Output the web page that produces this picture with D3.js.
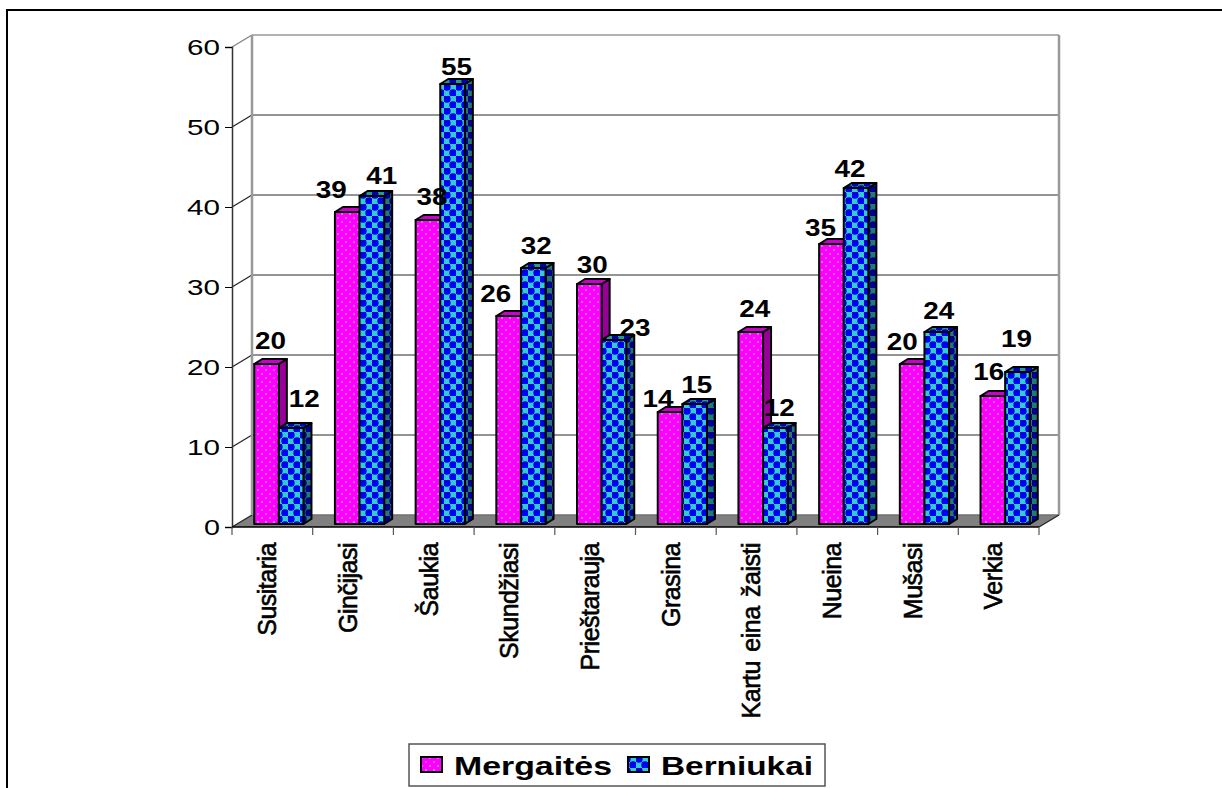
<!DOCTYPE html>
<html>
<head>
<meta charset="utf-8">
<script src="https://cdn.jsdelivr.net/npm/d3@7"></script>
<style>
html, body { margin: 0; padding: 0; background: #fff; }
svg { display: block; font-family: "Liberation Sans", Arial, sans-serif; }
</style>
</head>
<body>
<svg id="chart" width="1222" height="788"></svg>
<script>
const categories = ["Susitaria", "Ginčijasi", "Šaukia", "Skundžiasi", "Prieštarauja", "Grasina", "Kartu eina žaisti", "Nueina", "Mušasi", "Verkia"];
const girls = [20, 39, 38, 26, 30, 14, 24, 35, 20, 16];
const boys = [12, 41, 55, 32, 23, 15, 12, 42, 24, 19];
const yTicks = [0, 10, 20, 30, 40, 50, 60];
const seriesNames = ["Mergaitės", "Berniukai"];

// the original moves its value labels around to dodge the bars,
// so these are offsets from the bar centre and the gap above the bar
const girlsLabelDx = [4, -16, 4, -13, 3, -12, 4, -11, -10, -4];
const girlsLabelGap = [15, 14, 15, 14, 11, 5, 15, 8, 14, 16];
const boysLabelDx = [13, 10, 4, 3, 21, 2, 4, -6, 2, -1];
const boysLabelGap = [21, 12, 9, 14, 4, 11, 12, 11, 13, 25];

const left = 232, right = 1039, top3d = 47, bottom = 527;
const wallDx = 20, wallDy = -12; // shift of the back wall against the front

let svg = d3.select("#chart");

// Patterns for the bars
function dotPattern(defs, id, bg, dot) {
    let p = defs.append("pattern").attr("id", id).attr("patternUnits", "userSpaceOnUse")
        .attr("width", 8).attr("height", 8);
    p.append("rect").attr("width", 8).attr("height", 8).attr("fill", bg);
    p.append("rect").attr("x", 1).attr("y", 1).attr("width", 2).attr("height", 2).attr("fill", dot);
    p.append("rect").attr("x", 5).attr("y", 5).attr("width", 2).attr("height", 2).attr("fill", dot);
}
function checkPattern(defs, id, bg, square, dark) {
    let p = defs.append("pattern").attr("id", id).attr("patternUnits", "userSpaceOnUse")
        .attr("width", 12).attr("height", 12);
    p.append("rect").attr("width", 12).attr("height", 12).attr("fill", bg);
    p.append("rect").attr("x", 6).attr("y", 0).attr("width", 6).attr("height", 6).attr("fill", square);
    p.append("rect").attr("x", 0).attr("y", 6).attr("width", 6).attr("height", 6).attr("fill", square);
    p.append("circle").attr("cx", 3).attr("cy", 3).attr("r", 3.7).attr("fill", bg);
    p.append("circle").attr("cx", 9).attr("cy", 9).attr("r", 3.7).attr("fill", bg);
    p.append("path").attr("d", "M0.8 2.2Q3 0.4 5.2 2.2M6.8 8.2Q9 6.4 11.2 8.2")
        .attr("fill", "none").attr("stroke", dark).attr("stroke-width", 1);
}
let defs = svg.append("defs");
dotPattern(defs, "pinkFront", "#ff00ff", "#d070f0");
dotPattern(defs, "pinkSide", "#990099", "#990099");
dotPattern(defs, "pinkTop", "#cc00cc", "#cc00cc");
checkPattern(defs, "blueFront", "#0000ff", "#33cccc", "#0000aa");
checkPattern(defs, "blueSide", "#000099", "#247a70", "#000066");
checkPattern(defs, "blueTop", "#0000cc", "#2a9a90", "#000080");

// outer frame, cut off on the right and bottom of the picture
svg.append("path")
    .attr("d", "M7 788V10H1222")
    .attr("fill", "none").attr("stroke", "#000").attr("stroke-width", 2);

let x = d3.scaleBand().domain(categories).range([left, right]).paddingInner(0.39).paddingOuter(0.195);
let xTicks = d3.scaleLinear().domain([0, categories.length]).range([left, right]);
let inner = d3.scaleBand().domain(seriesNames).range([0, x.bandwidth()]);
let y = d3.scaleLinear().domain([0, 60]).range([bottom, top3d]);

// Floor
svg.append("path")
    .attr("d", `M${left} ${bottom}L${left + wallDx} ${bottom + wallDy}H${right + wallDx}L${right} ${bottom}Z`)
    .attr("fill", "#808080");

// Gridlines on the back wall and side wall
yTicks.forEach((t) => {
    svg.append("line").attr("x1", left + wallDx).attr("x2", right + wallDx)
        .attr("y1", y(t) + wallDy).attr("y2", y(t) + wallDy)
        .attr("stroke", t == 60 ? "#999" : "#707070").attr("stroke-width", 1.5);
    svg.append("line").attr("x1", left).attr("x2", left + wallDx)
        .attr("y1", y(t)).attr("y2", y(t) + wallDy)
        .attr("stroke", t == 60 ? "#808080" : "#222").attr("stroke-width", 1.2);
});
svg.append("path")
    .attr("d", `M${left + wallDx} ${y(0) + wallDy}V${y(60) + wallDy}`)
    .attr("stroke", "#999").attr("stroke-width", 2.5);
svg.append("path")
    .attr("d", `M${right + wallDx} ${y(0) + wallDy}V${y(60) + wallDy}`)
    .attr("stroke", "#999").attr("stroke-width", 2.5);
svg.append("line").attr("x1", right).attr("x2", right + wallDx)
    .attr("y1", y(0)).attr("y2", y(0) + wallDy).attr("stroke", "#222").attr("stroke-width", 1.2);

// Axes
let yAxis = d3.axisLeft(y).tickValues(yTicks).tickSize(7).tickPadding(5);
let yG = svg.append("g").attr("transform", `translate(${left},0)`).call(yAxis);
yG.select(".domain").attr("stroke", "#333").attr("stroke-width", 1.5);
yG.selectAll("text")
    .attr("font-size", 22).attr("font-family", "Liberation Sans").attr("fill", "#000")
    .attr("lengthAdjust", "spacingAndGlyphs")
    .attr("textLength", (d) => (d < 10 ? 16 : 33)); // the original digits are stretched wide

let xAxisG = svg.append("g");
xAxisG.append("line").attr("x1", left).attr("x2", right).attr("y1", bottom).attr("y2", bottom)
    .attr("stroke", "#000").attr("stroke-width", 1.5);
d3.range(categories.length + 1).forEach((i) => {
    xAxisG.append("line").attr("x1", xTicks(i)).attr("x2", xTicks(i))
        .attr("y1", bottom).attr("y2", bottom + 8)
        .attr("stroke", "#555").attr("stroke-width", 1.2);
});

// Category labels, rotated
categories.forEach((c, i) => {
    svg.append("text")
        .attr("transform", `translate(${(xTicks(i) + xTicks(i + 1)) / 2 - 5},543) rotate(-90)`)
        .attr("text-anchor", "end")
        .attr("dy", "0.35em")
        .attr("font-size", 25)
        .attr("letter-spacing", -0.5)
        .attr("word-spacing", 3)
        .attr("fill", "#000")
        .attr("stroke", "#000")
        .attr("stroke-width", 0.6)
        .text(c);
});

// Bars: front, side and top faces
const barShift = 6.5, barBase = 3, barDx = 8, barDy = 5;
function drawBar(cat, name, value, prefix) {
    let x0 = x(cat) + inner(name) + barShift;
    let x1 = x0 + inner.bandwidth();
    let y0 = y(value) - barBase;
    let y1 = y(0) - barBase;
    let g = svg.append("g").attr("stroke", "#000").attr("stroke-width", 2).attr("stroke-linejoin", "round");
    g.append("path").attr("d", `M${x1} ${y0}L${x1 + barDx} ${y0 - barDy}V${y1 - barDy}L${x1} ${y1}Z`)
        .attr("fill", `url(#${prefix}Side)`);
    g.append("path").attr("d", `M${x0} ${y0}L${x0 + barDx} ${y0 - barDy}H${x1 + barDx}L${x1} ${y0}Z`)
        .attr("fill", `url(#${prefix}Top)`);
    g.append("rect").attr("x", x0).attr("y", y0).attr("width", x1 - x0).attr("height", y1 - y0)
        .attr("fill", `url(#${prefix}Front)`);
}
categories.forEach((c, i) => {
    drawBar(c, seriesNames[0], girls[i], "pink");
    drawBar(c, seriesNames[1], boys[i], "blue");
});

// Value labels
function drawLabel(cat, name, value, dx, gap) {
    svg.append("text")
        .attr("x", x(cat) + inner(name) + inner.bandwidth() / 2 + barShift + dx)
        .attr("y", y(value) - barBase - gap)
        .attr("text-anchor", "middle")
        .attr("font-size", 23)
        .attr("font-weight", "bold")
        .attr("fill", "#000")
        .attr("lengthAdjust", "spacingAndGlyphs")
        .attr("textLength", 31)
        .text(value);
}
categories.forEach((c, i) => {
    drawLabel(c, seriesNames[0], girls[i], girlsLabelDx[i], girlsLabelGap[i]);
    drawLabel(c, seriesNames[1], boys[i], boysLabelDx[i], boysLabelGap[i]);
});

// Legend
let legend = svg.append("g");
legend.append("rect").attr("x", 409).attr("y", 744).attr("width", 416).attr("height", 42)
    .attr("fill", "#fff").attr("stroke", "#555").attr("stroke-width", 1.5);
let legendX = d3.scaleOrdinal().domain(seriesNames).range([421, 628]);
let legendLen = d3.scaleOrdinal().domain(seriesNames).range([158, 152]);
seriesNames.forEach((n, i) => {
    let prefix = i == 0 ? "pink" : "blue";
    legend.append("rect").attr("x", legendX(n)).attr("y", 757).attr("width", 21).attr("height", 15)
        .attr("fill", `url(#${prefix}Front)`).attr("stroke", "#000").attr("stroke-width", 2);
    legend.append("text").attr("x", legendX(n) + 33).attr("y", 775)
        .attr("font-size", 26).attr("font-weight", "bold")
        .attr("lengthAdjust", "spacingAndGlyphs").attr("textLength", legendLen(n))
        .attr("fill", "#000").text(n);
});
</script>
</body>
</html>
